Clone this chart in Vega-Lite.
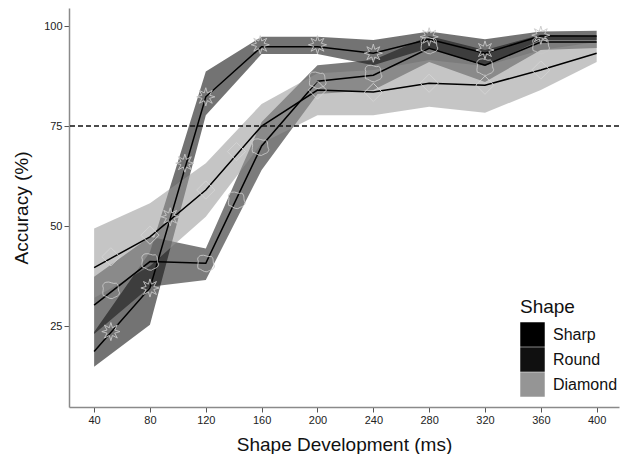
{
  "$schema": "https://vega.github.io/schema/vega-lite/v6.json",
  "width": 550,
  "height": 399,
  "autosize": "none",
  "padding": {"left": 69, "top": 8, "right": 5, "bottom": 47},
  "config": {
    "view": {"stroke": null},
    "font": "Liberation Sans",
    "axis": {
      "domainColor": "#8a8a8a",
      "domainWidth": 1.5,
      "tickColor": "#555555",
      "tickWidth": 1,
      "tickSize": 5,
      "grid": false,
      "labelFont": "Liberation Sans",
      "labelFontSize": 11,
      "labelColor": "#222222",
      "labelPadding": 2,
      "titleFont": "Liberation Sans",
      "titleFontSize": 19,
      "titleFontWeight": "normal",
      "titleColor": "#111111"
    }
  },
  "datasets": {
    "series": [
      {"ms": 40, "shape": "Sharp", "mean": 18.6, "lo": 14.8, "hi": 23.5},
      {"ms": 80, "shape": "Sharp", "mean": 34.5, "lo": 25.3, "hi": 43.5},
      {"ms": 120, "shape": "Sharp", "mean": 82.3, "lo": 77.7, "hi": 88.6},
      {"ms": 160, "shape": "Sharp", "mean": 94.8, "lo": 93.0, "hi": 97.3},
      {"ms": 200, "shape": "Sharp", "mean": 94.8, "lo": 93.0, "hi": 97.3},
      {"ms": 240, "shape": "Sharp", "mean": 93.2, "lo": 90.2, "hi": 96.5},
      {"ms": 280, "shape": "Sharp", "mean": 96.7, "lo": 94.5, "hi": 98.6},
      {"ms": 320, "shape": "Sharp", "mean": 93.2, "lo": 90.0, "hi": 96.7},
      {"ms": 360, "shape": "Sharp", "mean": 97.5, "lo": 96.5, "hi": 98.6},
      {"ms": 400, "shape": "Sharp", "mean": 97.5, "lo": 96.5, "hi": 98.8},
      {"ms": 40, "shape": "Round", "mean": 30.2, "lo": 23.0, "hi": 37.3},
      {"ms": 80, "shape": "Round", "mean": 41.1, "lo": 34.8, "hi": 47.3},
      {"ms": 120, "shape": "Round", "mean": 40.7, "lo": 36.5, "hi": 44.4},
      {"ms": 160, "shape": "Round", "mean": 70.0, "lo": 64.0, "hi": 76.0},
      {"ms": 200, "shape": "Round", "mean": 86.2, "lo": 83.0, "hi": 90.2},
      {"ms": 240, "shape": "Round", "mean": 87.7, "lo": 84.0, "hi": 91.5},
      {"ms": 280, "shape": "Round", "mean": 94.4, "lo": 91.0, "hi": 97.5},
      {"ms": 320, "shape": "Round", "mean": 90.2, "lo": 86.0, "hi": 94.0},
      {"ms": 360, "shape": "Round", "mean": 96.0, "lo": 94.0, "hi": 97.8},
      {"ms": 400, "shape": "Round", "mean": 96.0, "lo": 94.5, "hi": 97.5},
      {"ms": 40, "shape": "Diamond", "mean": 39.6, "lo": 32.0, "hi": 49.4},
      {"ms": 80, "shape": "Diamond", "mean": 47.3, "lo": 40.0, "hi": 55.7},
      {"ms": 120, "shape": "Diamond", "mean": 59.0, "lo": 52.3, "hi": 65.7},
      {"ms": 160, "shape": "Diamond", "mean": 75.0, "lo": 70.7, "hi": 80.5},
      {"ms": 200, "shape": "Diamond", "mean": 84.0, "lo": 77.7, "hi": 88.2},
      {"ms": 240, "shape": "Diamond", "mean": 83.5, "lo": 77.7, "hi": 89.0},
      {"ms": 280, "shape": "Diamond", "mean": 85.7, "lo": 79.8, "hi": 91.5},
      {"ms": 320, "shape": "Diamond", "mean": 85.2, "lo": 78.3, "hi": 90.0},
      {"ms": 360, "shape": "Diamond", "mean": 89.0, "lo": 84.0, "hi": 94.0},
      {"ms": 400, "shape": "Diamond", "mean": 93.2, "lo": 91.0, "hi": 96.0}
    ],
    "markers": [
      {"ms": 52, "marker": "Sharp", "acc": 23.6},
      {"ms": 80, "marker": "Sharp", "acc": 34.5},
      {"ms": 94.5, "marker": "Sharp", "acc": 52.3},
      {"ms": 105, "marker": "Sharp", "acc": 65.7},
      {"ms": 120, "marker": "Sharp", "acc": 82.3},
      {"ms": 159, "marker": "Sharp", "acc": 95.3},
      {"ms": 200, "marker": "Sharp", "acc": 95.3},
      {"ms": 240, "marker": "Sharp", "acc": 93.2},
      {"ms": 280, "marker": "Sharp", "acc": 97.3},
      {"ms": 320, "marker": "Sharp", "acc": 94.0},
      {"ms": 360, "marker": "Sharp", "acc": 97.7},
      {"ms": 52, "marker": "Round", "acc": 34.0},
      {"ms": 80, "marker": "Round", "acc": 41.1},
      {"ms": 120, "marker": "Round", "acc": 40.7},
      {"ms": 142, "marker": "Round", "acc": 56.5},
      {"ms": 159, "marker": "Round", "acc": 69.8},
      {"ms": 200, "marker": "Round", "acc": 86.5},
      {"ms": 240, "marker": "Round", "acc": 88.2},
      {"ms": 280, "marker": "Round", "acc": 95.2},
      {"ms": 320, "marker": "Round", "acc": 89.8},
      {"ms": 360, "marker": "Round", "acc": 95.2},
      {"ms": 52, "marker": "Diamond", "acc": 42.3},
      {"ms": 80, "marker": "Diamond", "acc": 47.7},
      {"ms": 120, "marker": "Diamond", "acc": 59.0},
      {"ms": 142, "marker": "Diamond", "acc": 68.6},
      {"ms": 200, "marker": "Diamond", "acc": 84.0},
      {"ms": 240, "marker": "Diamond", "acc": 83.4},
      {"ms": 280, "marker": "Diamond", "acc": 85.7},
      {"ms": 320, "marker": "Diamond", "acc": 85.2},
      {"ms": 360, "marker": "Diamond", "acc": 89.0}
    ]
  },
  "layer": [
    {
      "data": {"name": "series"},
      "mark": {"type": "area", "opacity": 0.55},
      "encoding": {
        "x": {
          "field": "ms",
          "type": "quantitative",
          "scale": {"domain": [22, 416], "nice": false, "zero": false},
          "axis": {"values": [40, 80, 120, 160, 200, 240, 280, 320, 360, 400], "title": "Shape Development (ms)", "titlePadding": 10}
        },
        "y": {
          "field": "lo",
          "type": "quantitative",
          "scale": {"domain": [4.75, 104.5], "nice": false, "zero": false},
          "axis": {"values": [25, 50, 75, 100], "title": "Accuracy (%)", "titlePadding": 12}
        },
        "y2": {"field": "hi"},
        "color": {
          "field": "shape",
          "type": "nominal",
          "sort": ["Sharp", "Round", "Diamond"],
          "scale": {"domain": ["Sharp", "Round", "Diamond"], "range": ["#000000", "#101010", "#959595"]},
          "legend": {
            "title": "Shape",
            "orient": "none",
            "legendX": 451,
            "legendY": 290,
            "symbolType": "square",
            "symbolSize": 600,
            "symbolOpacity": 1,
            "symbolStrokeWidth": 0,
            "rowPadding": 0,
            "labelOffset": 8,
            "labelFontSize": 16,
            "labelColor": "#111111",
            "labelFont": "Liberation Sans",
            "titleFontSize": 19,
            "titleFontWeight": "normal",
            "titleColor": "#111111",
            "titleFont": "Liberation Sans",
            "titlePadding": 5
          }
        }
      }
    },
    {
      "data": {"name": "series"},
      "mark": {"type": "line", "color": "#000000", "strokeWidth": 1.5},
      "encoding": {
        "x": {"field": "ms", "type": "quantitative"},
        "y": {"field": "mean", "type": "quantitative"},
        "detail": {"field": "shape", "type": "nominal"}
      }
    },
    {
      "data": {"values": [{"ref": 75}]},
      "mark": {"type": "rule", "color": "#111111", "strokeWidth": 1.5, "strokeDash": [5, 3]},
      "encoding": {"y": {"field": "ref", "type": "quantitative"}}
    },
    {
      "data": {"name": "markers"},
      "transform": [{"filter": "datum.marker === 'Sharp'"}],
      "mark": {"type": "point", "filled": false, "stroke": "#c8c8c8", "strokeWidth": 0.9, "opacity": 1, "size": 330,
        "shape": "M0,-1L0.17,-0.42L0.71,-0.71L0.42,-0.17L1,0L0.42,0.17L0.71,0.71L0.17,0.42L0,1L-0.17,0.42L-0.71,0.71L-0.42,0.17L-1,0L-0.42,-0.17L-0.71,-0.71L-0.17,-0.42Z"},
      "encoding": {
        "x": {"field": "ms", "type": "quantitative"},
        "y": {"field": "acc", "type": "quantitative"}
      }
    },
    {
      "data": {"name": "markers"},
      "transform": [{"filter": "datum.marker === 'Round'"}],
      "mark": {"type": "point", "filled": false, "stroke": "#c8c8c8", "strokeWidth": 0.9, "opacity": 1, "size": 330,
        "shape": "M-0.55,-0.85C-0.1,-1,0.2,-0.6,0.6,-0.75C0.95,-0.5,0.7,-0.1,0.95,0.3C0.9,0.75,0.5,0.7,0.15,0.95C-0.3,1,-0.5,0.6,-0.85,0.6C-1,0.2,-0.7,-0.1,-0.9,-0.45C-0.85,-0.7,-0.7,-0.8,-0.55,-0.85Z"},
      "encoding": {
        "x": {"field": "ms", "type": "quantitative"},
        "y": {"field": "acc", "type": "quantitative"}
      }
    },
    {
      "data": {"name": "markers"},
      "transform": [{"filter": "datum.marker === 'Diamond'"}],
      "mark": {"type": "point", "filled": false, "stroke": "#d4d4d4", "strokeWidth": 0.9, "opacity": 1, "size": 330, "shape": "diamond"},
      "encoding": {
        "x": {"field": "ms", "type": "quantitative"},
        "y": {"field": "acc", "type": "quantitative"}
      }
    }
  ]
}
